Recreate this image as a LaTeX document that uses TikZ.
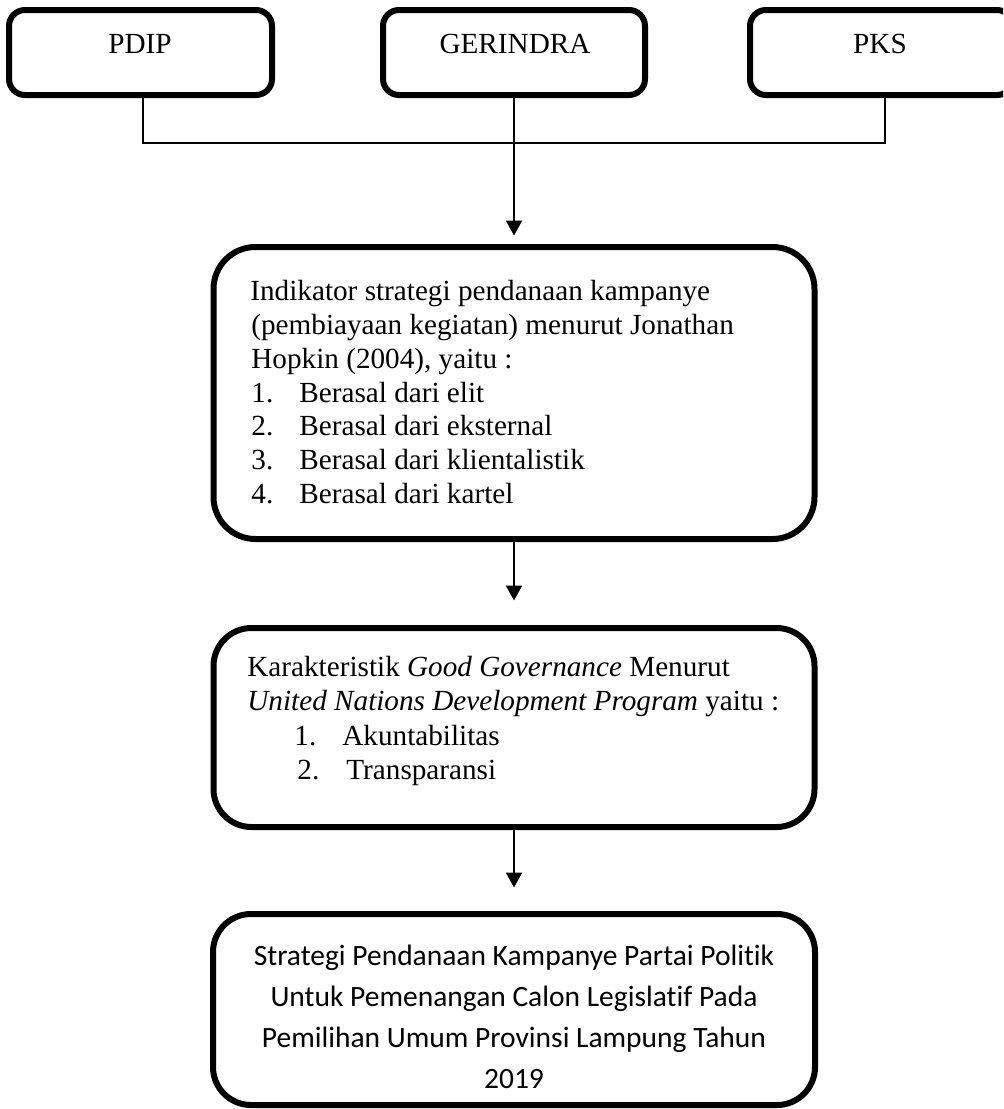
\documentclass[tikz,border=0pt]{standalone}
\usepackage{fontspec}
\setmainfont{Liberation Serif}
\newfontfamily\calib[Ligatures={NoCommon}]{Carlito}
\usetikzlibrary{arrows.meta}
\begin{document}
\begin{tikzpicture}[x=0.5pt,y=-0.5pt,
  box/.style={draw=black,line width=3pt,rounded corners=#1,inner sep=0pt,fill=none},
  box/.default=8pt,
  txt/.style={anchor=base west,inner sep=0pt,font=\fontsize{14.6}{17}\selectfont},
  ctxt/.style={anchor=base,inner sep=0pt,font=\fontsize{14.6}{17}\selectfont},
  btxt/.style={anchor=base,inner sep=0pt,font=\calib\fontsize{14.75}{17}\selectfont},
  bus/.style={line width=0.6pt},
  arr/.style={line width=1pt,-{Triangle[length=7.5pt,width=8pt]}}]
\useasboundingbox (0,0) rectangle (1003,1109);
\clip (0,0) rectangle (1003,1109);
% top boxes
\node[box,minimum width=131.5pt,minimum height=42.5pt] (pdip) at (140.5,52.5) {};
\node[box,minimum width=131pt,minimum height=42.5pt] (gerindra) at (514,52.5) {};
\node[box,minimum width=131.5pt,minimum height=42.5pt] (pks) at (881.5,52.5) {};
\node[ctxt] (tpdip) at (140,53) {PDIP};
\node[ctxt] (tger) at (515,53) {GERINDRA};
\node[ctxt] (tpks) at (880,53) {PKS};
% big boxes
\node[box=21pt,minimum width=300.5pt,minimum height=146pt] (box2) at (514,393) {};
\node[box=19pt,minimum width=300.5pt,minimum height=99.5pt] (box3) at (514,727.5) {};
\node[box=19pt,minimum width=301pt,minimum height=95.5pt] (box4) at (514,1009.5) {};
% connectors
\coordinate (busL) at (143,143);
\draw[bus] ([xshift=1.25pt]pdip.south) -- (busL) -- (885,143) -- ([xshift=1.75pt]pks.south);
\draw[arr,shorten >=4.25pt] (gerindra.south) -- (box2.north);
\draw[arr,shorten >=12.25pt] (box2.south) -- (box3.north);
\draw[arr,shorten >=11.75pt] (box3.south) -- (box4.north);
% box2 text
\node[txt] (i1) at (250,300) {Indikator strategi pendanaan kampanye};
\node[txt] (i2) at (251,334) {(pembiayaan kegiatan) menurut Jonathan};
\node[txt] (i3) at (251,368) {Hopkin (2004), yaitu :};
\node[txt] (n1) at (251,402) {1.};
\node[txt] (l1) at (299,402) {Berasal dari elit};
\node[txt] (n2) at (251,435.5) {2.};
\node[txt] (l2) at (299,435.5) {Berasal dari eksternal};
\node[txt] (n3) at (251,469) {3.};
\node[txt] (l3) at (299,469) {Berasal dari klientalistik};
\node[txt] (n4) at (251,503) {4.};
\node[txt] (l4) at (299,503) {Berasal dari kartel};
% box3 text
\node[txt] (k1) at (247,676) {Karakteristik \textit{Good Governance} Menurut};
\node[txt] (k2) at (247,710) {\textit{United Nations Development Program} yaitu :};
\node[txt] (m1) at (294,745) {1.};
\node[txt] (a1) at (342,745) {Akuntabilitas};
\node[txt] (m2) at (297,779) {2.};
\node[txt] (a2) at (346,779) {Transparansi};
% box4 text
\node[btxt] (s1) at (514,965) {Strategi Pendanaan Kampanye Partai Politik};
\node[btxt] (s2) at (514,1006) {Untuk Pemenangan Calon Legislatif Pada};
\node[btxt] (s3) at (514,1047) {Pemilihan Umum Provinsi Lampung Tahun};
\node[btxt] (s4) at (514,1088) {2019};
\end{tikzpicture}
\end{document}
